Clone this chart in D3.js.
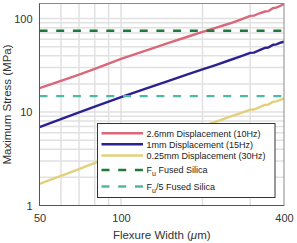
<!DOCTYPE html>
<html>
<head>
<meta charset="utf-8">
<script src="https://cdn.jsdelivr.net/npm/d3@7"></script>
<style>
  body { margin: 0; background: #fff; }
  svg { display: block; font-family: "Liberation Sans", Arial, sans-serif; }
</style>
</head>
<body>
<svg id="chart" width="297" height="243"></svg>
<script>

let widths = [50, 60, 70, 80, 90, 100, 125, 150, 175, 200, 225, 250, 275, 300, 310, 325, 340, 350, 365, 375, 390, 400];

// maximum stress (MPa) for each displacement
let stress26 = [18, 21.6, 25.2, 29, 33, 37, 46, 55, 63.5, 72, 80, 88, 97, 107, 107.5, 114, 119, 120, 130, 131, 138, 143];
let stress1 = [6.9, 8.4, 9.9, 11.4, 12.9, 14.4, 18, 21.6, 25.2, 28.6, 32, 35.6, 39.2, 43, 43.2, 46, 48.6, 49, 52.5, 53, 55.5, 56.5];
let stress025 = [1.7, 2.08, 2.45, 2.85, 3.2, 3.56, 4.45, 5.35, 6.2, 7.05, 7.9, 8.8, 9.7, 10.6, 10.65, 11.3, 11.9, 12, 12.9, 13, 13.6, 14];

let fuSilica = 74;
let fu5Silica = fuSilica / 5;

let xTicks = [50, 100, 400];
let yTicks = [1, 10, 100];
let xGrid = [60, 70, 80, 90, 100, 200, 300];
let yGrid = [2, 3, 4, 5, 6, 7, 8, 9, 10, 20, 30, 40, 50, 60, 70, 80, 90, 100];

let Plot = {
    Left: 39.5,
    Right: 284,
    Top: 3.5,
    Bottom: 205.5
};

let svg = d3.select('#chart');

let x = d3.scaleLog().domain([50, 400]).range([Plot.Left, Plot.Right]);
let y = d3.scaleLog().domain([1, 145]).range([Plot.Bottom, Plot.Top]);

// grid
svg.append('g')
    .selectAll('line')
    .data(xGrid)
    .join('line')
    .attr('x1', d => x(d)).attr('x2', d => x(d))
    .attr('y1', Plot.Top).attr('y2', Plot.Bottom)
    .attr('stroke', '#e1e1e1')
    .attr('stroke-width', 1.5);

svg.append('g')
    .selectAll('line')
    .data(yGrid)
    .join('line')
    .attr('y1', d => y(d)).attr('y2', d => y(d))
    .attr('x1', Plot.Left).attr('x2', Plot.Right)
    .attr('stroke', '#e1e1e1')
    .attr('stroke-width', 1.5);

svg.append('clipPath')
    .attr('id', 'plotClip')
    .append('rect')
    .attr('x', Plot.Left).attr('y', Plot.Top)
    .attr('width', Plot.Right - Plot.Left)
    .attr('height', Plot.Bottom - Plot.Top);

let plot = svg.append('g').attr('clip-path', 'url(#plotClip)');

let series = [
    { label: '2.6mm Displacement (10Hz)', values: stress26, color: '#d9687b' },
    { label: '1mm Displacement (15Hz)', values: stress1, color: '#2c2190' },
    { label: '0.25mm Displacement (30Hz)', values: stress025, color: '#e2d07c' }
];

let refLines = [
    { label: 'Fused Silica', sub: '', value: fuSilica, color: '#1d7a3c' },
    { label: 'Fused Silica', sub: '/5', value: fu5Silica, color: '#4fb8a2' }
];

let line = d3.line()
    .x((d, i) => x(widths[i]))
    .y(d => y(d));

plot.selectAll('path.curve')
    .data(series)
    .join('path')
    .attr('class', 'curve')
    .attr('d', s => line(s.values))
    .attr('fill', 'none')
    .attr('stroke', s => s.color)
    .attr('stroke-width', 2.4);

plot.selectAll('line.ref')
    .data(refLines)
    .join('line')
    .attr('class', 'ref')
    .attr('x1', Plot.Left).attr('x2', Plot.Right)
    .attr('y1', d => y(d.value)).attr('y2', d => y(d.value))
    .attr('stroke', d => d.color)
    .attr('stroke-width', 2.4)
    .attr('stroke-dasharray', '8,8.7');

// frame
svg.append('rect')
    .attr('x', Plot.Left).attr('y', Plot.Top)
    .attr('width', Plot.Right - Plot.Left)
    .attr('height', Plot.Bottom - Plot.Top)
    .attr('fill', 'none')
    .attr('stroke', '#8a8a8a')
    .attr('stroke-width', 1);

svg.append('path')
    .attr('d', `M${Plot.Left},${Plot.Top}V${Plot.Bottom}H${Plot.Right}`)
    .attr('fill', 'none')
    .attr('stroke', '#555')
    .attr('stroke-width', 1);

// axes (labels only)
let xAxis = svg.append('g')
    .attr('transform', `translate(0,${Plot.Bottom + 6})`)
    .call(d3.axisBottom(x).tickValues(xTicks).tickFormat(d3.format('d')).tickSize(0));
let yAxis = svg.append('g')
    .attr('transform', `translate(${Plot.Left - 4},0)`)
    .call(d3.axisLeft(y).tickValues(yTicks).tickFormat(d3.format('d')).tickSize(0));

[xAxis, yAxis].forEach(a => {
    a.select('.domain').remove();
    a.selectAll('text')
        .attr('font-family', '"Liberation Sans", Arial, sans-serif')
        .attr('font-size', 11)
        .attr('fill', '#333');
});

svg.append('text')
    .attr('x', (Plot.Left + Plot.Right) / 2)
    .attr('y', 239)
    .attr('text-anchor', 'middle')
    .attr('font-size', 11.5)
    .attr('fill', '#333')
    .html('Flexure Width (<tspan font-style="italic">μ</tspan>m)');

svg.append('text')
    .attr('transform', `translate(11,${(Plot.Top + Plot.Bottom) / 2}) rotate(-90)`)
    .attr('text-anchor', 'middle')
    .attr('font-size', 11.5)
    .attr('fill', '#333')
    .text('Maximum Stress (MPa)');

// legend
let legend = svg.append('g');
legend.append('rect')
    .attr('x', 97.5).attr('y', 123.5)
    .attr('width', 177.5).attr('height', 74)
    .attr('fill', '#fff')
    .attr('stroke', '#333')
    .attr('stroke-width', 1);

let legendRows = [133.3, 144.3, 155.5, 170, 186.5];
let entries = series.map(s => ({ color: s.color, dashed: false, label: s.label, sub: null }))
    .concat(refLines.map(r => ({ color: r.color, dashed: true, label: r.label, sub: r.sub })));

entries.forEach((e, i) => {
    let yy = legendRows[i];
    legend.append('line')
        .attr('x1', 101.5).attr('x2', 143)
        .attr('y1', yy).attr('y2', yy)
        .attr('stroke', e.color)
        .attr('stroke-width', 2.4)
        .attr('stroke-dasharray', e.dashed ? '8,8.7' : null);
    let t = legend.append('text')
        .attr('x', 146.5)
        .attr('y', yy + 3.3)
        .attr('font-size', 9)
        .attr('fill', '#222');
    if (e.sub === null) {
        t.text(e.label);
    } else {
        t.append('tspan').text('F');
        t.append('tspan').attr('font-size', 7).attr('dy', 3).text('u');
        t.append('tspan').attr('dy', -3).text(e.sub + ' ' + e.label);
    }
});
</script>
</body>
</html>
